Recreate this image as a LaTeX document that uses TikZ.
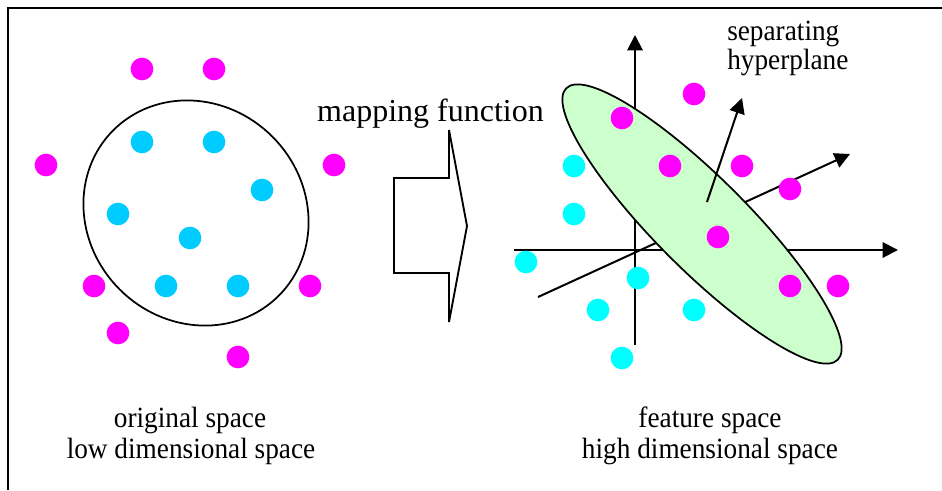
\documentclass[tikz,border=0pt]{standalone}
\usepackage{fontspec}
\setmainfont{Liberation Serif}
\usetikzlibrary{arrows.meta}
\definecolor{dotmag}{HTML}{FF00FF}
\definecolor{dotsky}{HTML}{00CCFF}
\definecolor{dotcyan}{HTML}{00FFFF}
\definecolor{planegreen}{HTML}{CCFFCC}
\tikzset{
  mdot/.style={circle, fill=dotmag, inner sep=0pt, minimum size=17pt},
  sdot/.style={circle, fill=dotsky, inner sep=0pt, minimum size=17pt},
  cdot/.style={circle, fill=dotcyan, inner sep=0pt, minimum size=17pt},
  axis/.style={line width=1.5pt, -{Triangle[length=11.5pt,width=11.5pt]}},
  spacetext/.style={font=\fontsize{22}{25}\selectfont, xscale=0.93, inner sep=0pt, anchor=base}
}

\begin{document}
\begin{tikzpicture}[x=0.75pt, y=-0.75pt]
\useasboundingbox (0,0) rectangle (942,490);
% frame
\draw [line width=1.6pt] (8,490)--(8,8)--(942,8);
% original space
\begin{scope}[shift={(196,213)}, rotate=-45]
\draw [line width=1.3pt] (0,0) ellipse [x radius=117, y radius=108];
\end{scope}
\foreach \x/\y [count=\i] in {142/69, 214/69, 46/165, 334/165, 94/286, 310/286, 118/333, 238/357}
  \node [mdot] (lm\i) at (\x,\y) {};
\foreach \x/\y [count=\i] in {142/142, 214/142, 262/190, 118/214, 190/238, 166/286, 238/286}
  \node [sdot] (ls\i) at (\x,\y) {};
% mapping arrow
\draw [line width=1.4pt, line join=miter] (394,178)--(449,178)--(449,130)--(467,226)--(449,322)--(449,273)--(394,273)--cycle;
\node [font=\fontsize{24}{28}\selectfont, inner sep=0pt, anchor=base] (map) at (430.5,121) {mapping function};
% feature space axes
\coordinate (zbot) at (635,345);
\coordinate (ztop) at (635,35);
\coordinate (xleft) at (514,250);
\coordinate (xright) at (898,250);
\coordinate (yleft) at (538,297);
\coordinate (yright) at (850,154);
\draw [axis] (zbot)--(ztop);
\draw [axis] (xleft)--(xright);
\draw [axis] (yleft)--(yright);
\begin{scope}[shift={(702,224)}, rotate=-45]
\draw [line width=1.3pt, fill=planegreen] (0,0) ellipse [x radius=192, y radius=46];
\end{scope}
\coordinate (nbase) at (707,202);
\coordinate (ntip) at (742,98);
\draw [axis] (nbase)--(ntip);
\foreach \x/\y [count=\i] in {622/118, 694/94, 670/166, 742/166, 790/189, 718/237, 790/286, 838/286}
  \node [mdot] (rm\i) at (\x,\y) {};
\foreach \x/\y [count=\i] in {574/166, 574/214, 526/262, 638/278, 598/310, 694/310, 622/358}
  \node [cdot] (rc\i) at (\x,\y) {};
% labels
\node [spacetext, anchor=base west] (sep1) at (727,40) {separating};
\node [spacetext, anchor=base west] (sep2) at (727,69) {hyperplane};
\node [spacetext] (orig1) at (190,427) {original space};
\node [spacetext] (orig2) at (191,458) {low dimensional space};
\node [spacetext] (feat1) at (710,427) {feature space};
\node [spacetext] (feat2) at (710,458) {high dimensional space};
\end{tikzpicture}
\end{document}
